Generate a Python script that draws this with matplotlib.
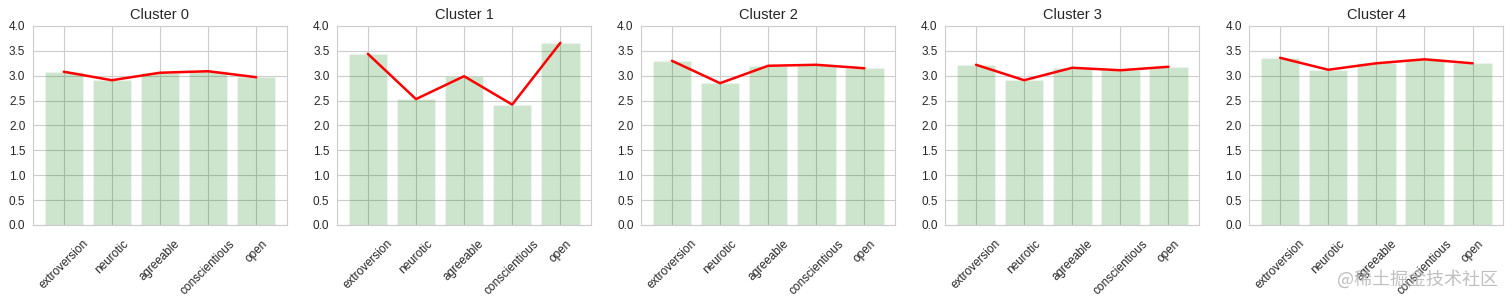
#!/usr/bin/env python3
"""Big-five trait means per cluster: bars plus a red profile line."""

import matplotlib

matplotlib.use("Agg")
import matplotlib.pyplot as plt
import seaborn as sns

traits = ["extroversion", "neurotic", "agreeable", "conscientious", "open"]
cluster_names = ["Cluster 0", "Cluster 1", "Cluster 2", "Cluster 3", "Cluster 4"]

cluster0 = [3.08, 2.91, 3.06, 3.09, 2.97]
cluster1 = [3.44, 2.53, 2.99, 2.42, 3.66]
cluster2 = [3.30, 2.85, 3.20, 3.22, 3.15]
cluster3 = [3.22, 2.91, 3.16, 3.11, 3.18]
cluster4 = [3.36, 3.12, 3.25, 3.33, 3.25]

watermark = "@稀土掘金技术社区"


def main() -> None:
    sns.set_style("whitegrid")
    plt.rcParams["font.family"] = ["Liberation Sans", "Noto Sans CJK SC"]

    fig, axes = plt.subplots(1, 5, figsize=(15.12, 3.02), dpi=100)
    fig.subplots_adjust(left=0.0218, right=0.9943, top=0.914, bottom=0.255,
                        wspace=0.197)

    series = [cluster0, cluster1, cluster2, cluster3, cluster4]
    x = range(len(traits))
    for ax, name, vals in zip(axes, cluster_names, series):
        ax.bar(x, vals, width=0.8, color="green", alpha=0.2)
        ax.plot(x, vals, color="red", linewidth=1.8)
        ax.set_ylim(0, 4)
        ax.set_yticks([0, 0.5, 1.0, 1.5, 2.0, 2.5, 3.0, 3.5, 4.0])
        ax.set_xticks(list(x))
        ax.set_xticklabels(traits, rotation=45)
        ax.tick_params(axis="y", labelsize=8.5, pad=2)
        ax.tick_params(axis="x", labelsize=8.5, pad=5.5)
        ax.set_title(name, fontsize=10.5, pad=5)

    fig.text(0.991, 0.075, watermark, ha="right", va="center",
             fontsize=13, color="#b4b4b4", alpha=0.85,
             family=["Noto Sans CJK SC", "DejaVu Sans"])

    fig.savefig("out.png", dpi=100)
    plt.close(fig)


if __name__ == "__main__":
    main()
